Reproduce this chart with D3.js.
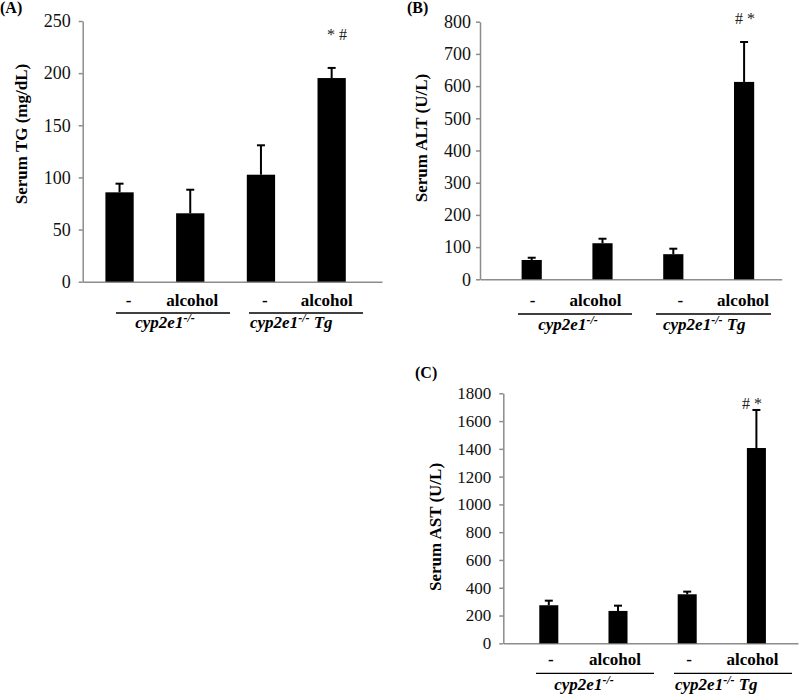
<!DOCTYPE html>
<html><head><meta charset="utf-8">
<script src="https://cdn.jsdelivr.net/npm/d3@7"></script>
<style>
body{margin:0;background:#fff;}
svg{display:block;}
svg text{font-family:'Liberation Serif','Times New Roman',serif;}
</style></head>
<body>
<svg id="chart" width="800" height="694"></svg>
<script>
// ---- data ----
const categories = ["-", "alcohol", "-", "alcohol"];
const groupNames = ["cyp2e1", "cyp2e1"];
const groupSup = ["-/-", "-/-"];
const groupSuffix = ["", " Tg"];

const tgMean = [85.7, 65.6, 102.6, 195.3];
const tgErr  = [8.3, 22.6, 28.2, 9.7];
const tgTicks = [0, 50, 100, 150, 200, 250];

const altMean = [60, 112, 78, 613];
const altErr  = [7, 14, 17, 124];
const altTicks = [0, 100, 200, 300, 400, 500, 600, 700, 800];

const astMean = [274, 233, 353, 1406];
const astErr  = [33, 38, 19, 274];
const astTicks = [0, 200, 400, 600, 800, 1000, 1200, 1400, 1600, 1800];

const panelLetters = ["(A)", "(B)", "(C)"];
const yTitles = ["Serum TG (mg/dL)", "Serum ALT (U/L)", "Serum AST (U/L)"];
const annotations = ["* #", "# *", "# *"];

// ---- layout ----
const panels = [
  {mean: tgMean, err: tgErr, ticks: tgTicks, max: 250,
   axX: 82.7, y0: 281.7, yTop: 21, xEnd: 382, band: [84.2, 367], barFrac: 0.4, tickFont: 18,
   labDx: [9, 2, 4, -5], labY: 306, lineY: 313,
   lines: [[116, 230], [249, 363]], grpY: 328, grpX: [165, 250],
   letter: [0, 13], ytitle: [27, 134], ann: [337, 40], tickGap: 12},
  {mean: altMean, err: altErr, ticks: altTicks, max: 800,
   axX: 480, y0: 279.3, yTop: 21.7, xEnd: 781.7, band: [496.3, 779.5], barFrac: 0.285, tickFont: 18,
   labDx: [1, -7, 7, -1], labY: 306, lineY: 314,
   lines: [[518, 632], [656, 771]], grpY: 330, grpX: [568, 663],
   letter: [407, 13], ytitle: [427, 138], ann: [745, 24], tickGap: 9},
  {mean: astMean, err: astErr, ticks: astTicks, max: 1800,
   axX: 503.3, y0: 643.3, yTop: 393.3, xEnd: 798, band: [514.2, 791], barFrac: 0.275, tickFont: 17,
   labDx: [2, -3, 2, -4], labY: 665, lineY: 673.3,
   lines: [[536, 654], [674, 792]], grpY: 690, grpX: [584, 675],
   letter: [415, 378], ytitle: [441, 527], ann: [752, 409], tickGap: 12}
];

const FONT = "'Liberation Serif','Times New Roman',serif";
const svg = d3.select("#chart");
const axisColor = "#8c8c8c";

panels.forEach((p, pi) => {
  const g = svg.append("g").attr("font-family", FONT);
  const y = d3.scaleLinear().domain([0, p.max]).range([p.y0, p.yTop]);
  const x = d3.scaleBand().domain(d3.range(categories.length)).range(p.band).padding(0);
  const bw = x.bandwidth() * p.barFrac;
  const cx = i => x(i) + x.bandwidth() / 2;

  // y axis
  const yAxis = d3.axisLeft(y).tickValues(p.ticks).tickFormat(d3.format("d"))
    .tickSize(4).tickSizeOuter(0).tickPadding(p.tickGap - 4);
  const ya = g.append("g").attr("transform", `translate(${p.axX},0)`).call(yAxis);
  ya.attr("font-family", FONT).attr("font-size", p.tickFont);
  ya.select(".domain").attr("stroke", axisColor).attr("stroke-width", 1.5);
  ya.selectAll(".tick line").attr("stroke", axisColor).attr("stroke-width", 1.5);
  ya.selectAll(".tick text").attr("fill", "#111");

  // x axis line
  const xl = d3.scaleLinear().domain([0, 1]).range([p.axX, p.xEnd]);
  const xa = g.append("g").attr("transform", `translate(0,${p.y0})`)
    .call(d3.axisBottom(xl).tickValues([]).tickSizeOuter(0));
  xa.select(".domain").attr("stroke", axisColor).attr("stroke-width", 1.5);

  // bars
  g.selectAll("rect.bar").data(p.mean).join("rect")
    .attr("class", "bar")
    .attr("x", (d, i) => cx(i) - bw / 2)
    .attr("width", bw)
    .attr("y", d => y(d))
    .attr("height", d => p.y0 - y(d))
    .attr("fill", "#000");

  // error bars (upper only)
  p.mean.forEach((m, i) => {
    const top = y(m + p.err[i]);
    g.append("line").attr("x1", cx(i)).attr("x2", cx(i)).attr("y1", y(m)).attr("y2", top)
      .attr("stroke", "#000").attr("stroke-width", 2);
    g.append("line").attr("x1", cx(i) - 4).attr("x2", cx(i) + 4).attr("y1", top).attr("y2", top)
      .attr("stroke", "#000").attr("stroke-width", 2);
  });

  // category labels
  categories.forEach((c, i) => {
    g.append("text").attr("x", cx(i) + p.labDx[i]).attr("y", p.labY)
      .attr("text-anchor", "middle").attr("font-weight", "bold")
      .attr("font-size", 17).text(c);
  });

  // group lines
  p.lines.forEach(l => {
    g.append("line").attr("x1", l[0]).attr("x2", l[1]).attr("y1", p.lineY).attr("y2", p.lineY)
      .attr("stroke", "#000").attr("stroke-width", 1.3);
  });

  // group labels
  groupNames.forEach((n, gi) => {
    const t = g.append("text").attr("x", p.grpX[gi]).attr("y", p.grpY)
      .attr("text-anchor", gi === 0 ? "middle" : "start")
      .attr("font-weight", "bold").attr("font-style", "italic")
      .attr("font-size", 17);
    t.append("tspan").text(n);
    t.append("tspan").attr("dy", -6).attr("font-size", 12).text(groupSup[gi]);
    if (groupSuffix[gi]) t.append("tspan").attr("dy", 6).text(groupSuffix[gi]);
  });

  // panel letter
  g.append("text").attr("x", p.letter[0]).attr("y", p.letter[1])
    .attr("font-weight", "bold").attr("font-size", 16).text(panelLetters[pi]);

  // y title
  g.append("text").attr("transform", `translate(${p.ytitle[0]},${p.ytitle[1]}) rotate(-90)`)
    .attr("text-anchor", "middle").attr("font-weight", "bold").attr("font-size", 17)
    .text(yTitles[pi]);

  // significance annotation
  g.append("text").attr("x", p.ann[0]).attr("y", p.ann[1]).attr("text-anchor", "middle")
    .attr("font-size", 16).attr("fill", "#222").text(annotations[pi]);
});
</script>
</body></html>
